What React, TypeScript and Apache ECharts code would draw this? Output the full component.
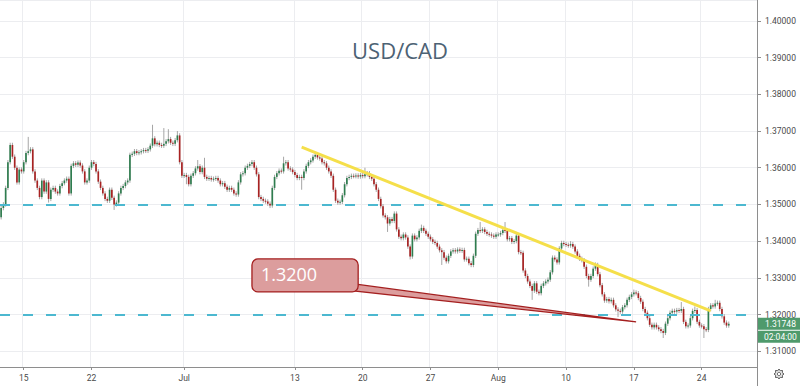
import React, { useEffect, useRef } from "react";
import * as echarts from "echarts";

// ---- Data: 4H candles, closes in pips above 1.30000 ----
const PIP_BASE = 1.3;
const PIP = 0.0001;
const FIRST_OPEN = 465;

const closesJun11 = [490, 500, 545, 615, 662, 630, 600, 560, 595, 590];
const closesJun15 = [615, 640, 645, 650, 590, 565, 545, 520, 565, 535, 560, 515, 540, 545, 535, 530, 550, 558, 565, 570, 530, 605, 612, 608, 614, 606, 590, 560, 565, 600];
const closesJun22 = [615, 610, 590, 562, 545, 530, 515, 510, 540, 518, 500, 505, 530, 545, 550, 560, 565, 635, 638, 645, 640, 642, 645, 648, 646, 650, 660, 680, 664, 668];
const closesJun29 = [662, 660, 665, 672, 678, 668, 665, 675, 688, 615, 578, 580, 575, 555, 578, 585, 598, 604, 588, 600, 575, 570, 572, 568, 570, 572, 565, 555, 558, 548];
const closesJul06 = [540, 545, 540, 530, 527, 560, 582, 585, 600, 605, 610, 615, 600, 582, 520, 515, 510, 508, 502, 497, 545, 575, 585, 592, 590, 612, 615, 598, 595, 588];
const closesJul13 = [580, 572, 575, 572, 590, 605, 615, 620, 630, 635, 628, 625, 615, 612, 600, 590, 578, 540, 510, 505, 507, 525, 555, 572, 575, 578, 577, 579, 576, 580];
const closesJul20 = [577, 582, 585, 575, 570, 555, 540, 515, 495, 470, 465, 448, 460, 455, 475, 432, 412, 408, 418, 410, 385, 358, 415, 405, 410, 428, 436, 428, 420, 412];
const closesJul27 = [405, 398, 395, 385, 375, 370, 355, 345, 360, 372, 375, 372, 377, 374, 376, 350, 352, 340, 335, 360, 420, 430, 428, 432, 425, 420, 418, 415, 412, 418];
const closesAug03 = [418, 422, 430, 428, 405, 408, 398, 400, 415, 370, 368, 320, 305, 290, 278, 265, 285, 262, 258, 278, 285, 290, 295, 315, 355, 350, 342, 380, 395, 392];
const closesAug10 = [390, 388, 392, 385, 372, 360, 352, 348, 330, 305, 295, 305, 325, 335, 310, 280, 255, 238, 242, 236, 240, 225, 214, 210, 208, 220, 225, 240, 248, 255];
const closesAug17 = [260, 258, 245, 235, 215, 205, 190, 172, 165, 172, 165, 160, 155, 150, 175, 190, 205, 210, 208, 212, 210, 215, 180, 168, 170, 190, 210, 212, 180, 170];
const closesAug24 = [168, 160, 158, 215, 225, 222, 230, 232, 215, 195, 178, 170, 174.8];

const DEFAULT_WICK = 6;
const highOverrides: Record<number, number> = {
  12: 684, 67: 717, 72: 708, 74: 705, 78: 700, 87: 621, 90: 627, 125: 630, 139: 642,
  161: 600, 186: 445, 212: 452, 223: 452, 252: 400, 263: 342, 280: 268, 301: 234, 307: 222, 316: 240,
};
const lowOverrides: Record<number, number> = {
  0: 460, 21: 505, 50: 485, 82: 555, 119: 490, 133: 540, 171: 425, 181: 350, 195: 335,
  235: 240, 260: 276, 273: 193, 293: 136, 311: 136,
};

const tickIndices = [10, 40, 81, 130, 160, 190, 220, 250, 280, 310];
const tickLabels = ["15", "22", "Jul", "13", "20", "27", "Aug", "10", "17", "24"];
const EMPTY_SLOTS = 12;

const lastPrice = 1.31748;
const countdown = "02:04:00";
const dashedLevels = [1.35, 1.32];
const trendStart = [133, 1.3656];
const trendEnd = [314, 1.321];
const calloutText = "1.3200";
const calloutBox = { left: 111, top: 1.33515, right: 158, bottom: 1.32616 };
const calloutTail = { topIdx: 158, topPrice: 1.32834, botIdx: 156, botPrice: 1.32616, tipIdx: 281, tipPrice: 1.31798 };
const title = "USD/CAD";

const toPrice = (v: number) => +(PIP_BASE + v * PIP).toFixed(5);

const weeks = [closesJun11, closesJun15, closesJun22, closesJun29, closesJul06, closesJul13, closesJul20, closesJul27, closesAug03, closesAug10, closesAug17, closesAug24];
const closes = weeks.flat();
const candles = closes.map((c, i) => {
  const o = i === 0 ? FIRST_OPEN : closes[i - 1];
  const hi = Math.max(highOverrides[i] ?? -Infinity, Math.max(o, c) + DEFAULT_WICK);
  const lo = Math.min(lowOverrides[i] ?? Infinity, Math.min(o, c) - DEFAULT_WICK);
  return [i, toPrice(o), toPrice(c), toPrice(lo), toPrice(hi)];
});
const categories = Array.from({ length: closes.length + EMPTY_SLOTS }, (_, i) => String(i));
const labelMap: Record<number, string> = {};
tickIndices.forEach((t, k) => (labelMap[t] = tickLabels[k]));

echarts.graphic.registerShape(
  "gear",
  echarts.graphic.extendPath(
    "M0,-5 L1.2,-3.2 L3.5,-3.5 L3.2,-1.2 L5,0 L3.2,1.2 L3.5,3.5 L1.2,3.2 L0,5 L-1.2,3.2 L-3.5,3.5 L-3.2,1.2 L-5,0 L-3.2,-1.2 L-3.5,-3.5 L-1.2,-3.2 Z",
    {}
  ) as any
);

const UP = "#2f7d4f";
const DOWN = "#a82222";
const WICK = "#9c9c9c";
const AXIS = "#8e8e8e";
const GRID = "#ecedf0";
const FONT = "Roboto";

export default function App() {
  const ref = useRef<HTMLDivElement>(null);
  useEffect(() => {
    if (!ref.current) return;
    const chart = echarts.init(ref.current, null, { renderer: "svg" });
    const option: any = {
      animation: false,
      backgroundColor: "#ffffff",
      textStyle: { fontFamily: FONT },
      grid: { left: 0, right: 43, top: 0, bottom: 19, containLabel: false },
      xAxis: {
        type: "category",
        data: categories,
        boundaryGap: true,
        axisLine: { show: true, lineStyle: { color: AXIS, width: 1 } },
        axisTick: { show: true, alignWithLabel: true, length: 3, interval: (i: number) => labelMap[i] !== undefined, lineStyle: { color: AXIS } },
        axisLabel: {
          interval: (i: number) => labelMap[i] !== undefined,
          formatter: (v: string) => labelMap[+v] ?? "",
          fontSize: 8.5,
          color: "#4a4a4a",
          margin: 6,
          fontFamily: FONT,
        },
        splitLine: { show: true, interval: (i: number) => labelMap[i] !== undefined, lineStyle: { color: GRID, width: 1 } },
      },
      yAxis: {
        type: "value",
        position: "right",
        min: 1.3057,
        max: 1.4057,
        splitNumber: 10,
        axisLine: { show: true, lineStyle: { color: AXIS, width: 1 } },
        axisTick: { show: true, inside: false, length: 4, lineStyle: { color: AXIS } },
        axisLabel: {
          showMinLabel: false,
          showMaxLabel: false,
          margin: 8,
          fontSize: 8.5,
          color: "#4a4a4a",
          fontFamily: FONT,
          formatter: (v: number) => (Math.abs(v * 100 - Math.round(v * 100)) < 1e-6 ? v.toFixed(5) : ""),
        },
        splitLine: { show: true, lineStyle: { color: GRID, width: 1 } },
      },
      series: [
        {
          type: "custom",
          name: "USD/CAD",
          data: candles,
          encode: { x: 0, y: [1, 2, 3, 4] },
          renderItem: (params: any, api: any) => {
            const idx = api.value(0);
            const o = api.value(1);
            const c = api.value(2);
            const l = api.value(3);
            const h = api.value(4);
            const pO = api.coord([idx, o]);
            const pC = api.coord([idx, c]);
            const pL = api.coord([idx, l]);
            const pH = api.coord([idx, h]);
            const bw = api.size([1, 0])[0] * 0.74;
            const up = c >= o;
            const top = Math.min(pO[1], pC[1]);
            const bh = Math.max(Math.abs(pO[1] - pC[1]), 1);
            return {
              type: "group",
              children: [
                { type: "line", shape: { x1: pH[0], y1: pH[1], x2: pL[0], y2: pL[1] }, style: { stroke: WICK, lineWidth: 0.9 } },
                { type: "rect", shape: { x: pO[0] - bw / 2, y: top, width: bw, height: bh }, style: { fill: up ? UP : DOWN } },
              ],
            };
          },
          markLine: {
            silent: true,
            symbol: ["none", "none"],
            label: { show: false },
            data: [
              ...dashedLevels.map((lv) => ({ yAxis: lv, lineStyle: { color: "#4cb8d0", width: 2, type: [10, 13] } })),
              [
                { coord: trendStart, lineStyle: { color: "#f5df4a", width: 3, type: "solid" } },
                { coord: trendEnd },
              ],
            ],
          },
        },
      ],
    };
    chart.setOption(option);

    const px = (i: number, p: number) => chart.convertToPixel({ xAxisIndex: 0, yAxisIndex: 0 }, [i, p]) as number[];
    const bTL = px(calloutBox.left, calloutBox.top);
    const bBR = px(calloutBox.right, calloutBox.bottom);
    const tTop = px(calloutTail.topIdx, calloutTail.topPrice);
    const tBot = px(calloutTail.botIdx, calloutTail.botPrice);
    const tTip = px(calloutTail.tipIdx, calloutTail.tipPrice);
    const lastY = px(0, lastPrice)[1];
    const boxFill = "#dc9d9d";
    const boxStroke = "#a41f1f";

    chart.setOption({
      graphic: [
        {
          type: "text",
          x: 400,
          y: 49.5,
          style: { text: title, fontSize: 22, fontFamily: "Open Sans", fill: "#4d6274", align: "center", verticalAlign: "middle" },
        },
        {
          type: "polygon",
          z: 10,
          shape: { points: [[tTop[0] - 4, tTop[1]], tTip, [tBot[0], tBot[1] - 1]] },
          style: { fill: boxFill, stroke: boxStroke, lineWidth: 1.2 },
        },
        {
          type: "rect",
          z: 11,
          shape: { x: bTL[0], y: bTL[1], width: bBR[0] - bTL[0], height: bBR[1] - bTL[1], r: 6 },
          style: { fill: boxFill, stroke: boxStroke, lineWidth: 1.3 },
        },
        {
          type: "text",
          z: 12,
          x: bTL[0] + 9,
          y: (bTL[1] + bBR[1]) / 2 - 1,
          style: { text: calloutText, fontSize: 18, fontFamily: "Open Sans", fill: "#ffffff", align: "left", verticalAlign: "middle" },
        },
        {
          type: "rect",
          z: 12,
          shape: { x: 758, y: lastY - 6, width: 42, height: 12 },
          style: { fill: "#4f9a6c" },
        },
        {
          type: "text",
          z: 13,
          x: 765,
          y: lastY,
          style: { text: lastPrice.toFixed(5), fontSize: 8.5, fontFamily: FONT, fill: "#ffffff", align: "left", verticalAlign: "middle" },
        },
        {
          type: "rect",
          z: 12,
          shape: { x: 758, y: lastY + 7, width: 42, height: 12 },
          style: { fill: "#4f9a6c" },
        },
        {
          type: "text",
          z: 13,
          x: 764,
          y: lastY + 13,
          style: { text: countdown, fontSize: 8.5, fontFamily: FONT, fill: "#ffffff", align: "left", verticalAlign: "middle" },
        },
        {
          type: "line",
          shape: { x1: 757.5, y1: 367, x2: 757.5, y2: 386 },
          style: { stroke: AXIS, lineWidth: 1 },
        },
        {
          type: "gear",
          x: 779,
          y: 374,
          style: { fill: "none", stroke: "#555555", lineWidth: 1 },
        },
        {
          type: "circle",
          shape: { cx: 779, cy: 374, r: 1.8 },
          style: { fill: "none", stroke: "#555555", lineWidth: 1 },
        },
      ],
    });
    return () => chart.dispose();
  }, []);
  return (
    <div style={{ position: "fixed", left: 0, top: 0, width: 800, height: 386, background: "#fff" }}>
      <div ref={ref} style={{ width: 800, height: 386 }} />
    </div>
  );
}
